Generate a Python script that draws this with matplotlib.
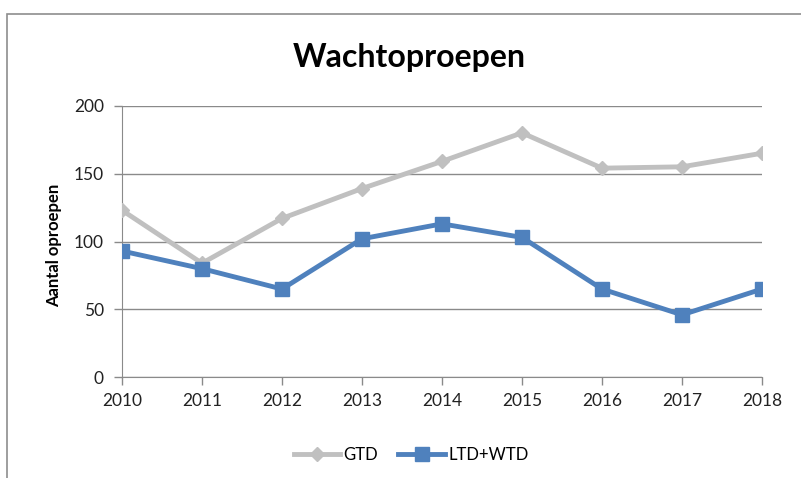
import numpy as np
import matplotlib.pyplot as plt
from matplotlib.patches import Rectangle

plt.rcParams['font.family'] = ['Lato', 'DejaVu Sans']

jaren = [2010, 2011, 2012, 2013, 2014, 2015, 2016, 2017, 2018]
gtd = [123, 84, 117, 139, 159, 180, 154, 155, 165]
ltd_wtd = [93, 80, 65, 102, 113, 103, 65, 46, 65]

W, H = 801, 478
fig = plt.figure(figsize=(W / 100, H / 100), dpi=100)

# grijze rand om de grafiek
fig.patches.append(Rectangle((7 / W, -0.1), 1.2, 1.1 - 14 / H,
                             transform=fig.transFigure, fill=False,
                             edgecolor='#8e8e8e', linewidth=1.2))

ax = fig.add_axes([122 / W, 1 - 377.3 / H, 640 / W, 271.6 / H])

ax.plot(jaren, gtd, color='#c0c0c0', linewidth=3.5, marker='D', markersize=7,
        label='GTD', zorder=3)
ax.plot(jaren, ltd_wtd, color='#4f81bd', linewidth=3.5, marker='s', markersize=10.5,
        label='LTD+WTD', zorder=4)

ax.set_xlim(2010, 2018)
ax.set_ylim(0, 200)
ax.set_xticks(jaren)
ax.set_yticks([0, 50, 100, 150, 200])
ax.grid(axis='y', color='#8a8a8a', linewidth=1)
ax.set_axisbelow(True)
for s in ['top', 'right']:
    ax.spines[s].set_visible(False)
for s in ['left', 'bottom']:
    ax.spines[s].set_color('#8a8a8a')
ax.tick_params(axis='both', colors='#8a8a8a', labelcolor='#222222', labelsize=12.5,
               length=6, width=1)
ax.tick_params(axis='x', pad=5)
ax.tick_params(axis='y', pad=7)

fig.text(409 / W, 1 - 58 / H, 'Wachtoproepen', ha='center', va='center',
         fontsize=23, fontweight='bold')
fig.text(54 / W, 1 - 245 / H, 'Aantal oproepen', ha='center', va='center',
         rotation=90, fontsize=12, fontweight='bold')

fig.legend(loc='center', bbox_to_anchor=(411 / W, 1 - 455 / H), ncol=2,
           frameon=False, fontsize=12, handlelength=2.8, columnspacing=1.2,
           handletextpad=0.2)

fig.savefig('out.png', dpi=100)
